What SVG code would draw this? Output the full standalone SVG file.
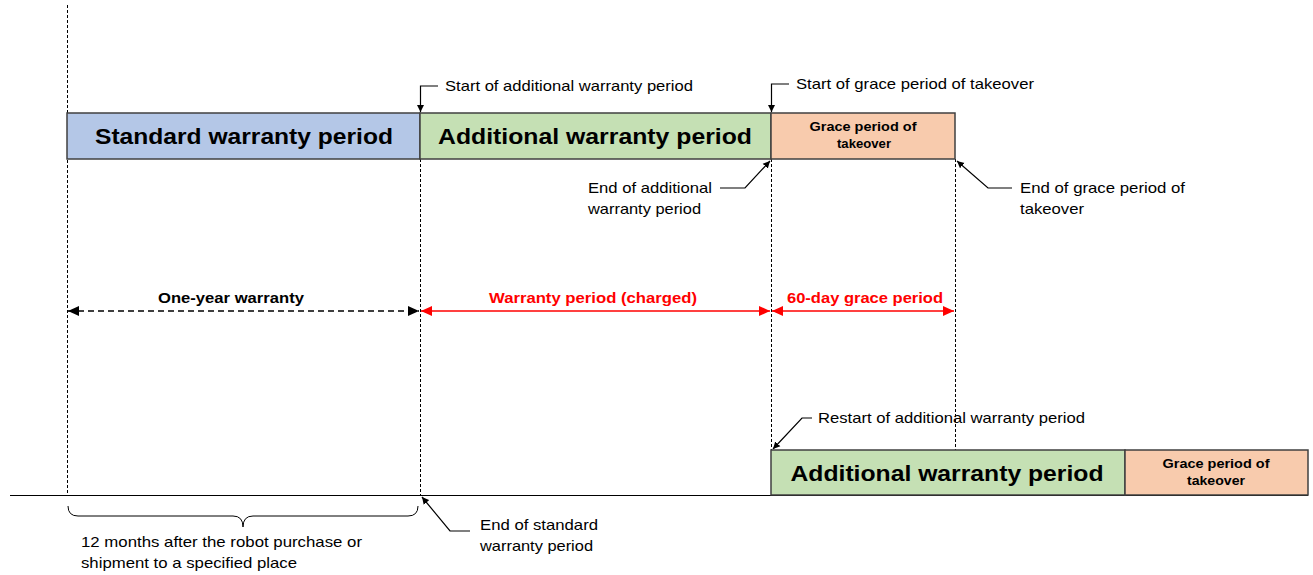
<svg xmlns="http://www.w3.org/2000/svg" width="1313" height="575" viewBox="0 0 1313 575">
  <defs>
    <marker id="ah" markerWidth="8" markerHeight="8" refX="7" refY="4" orient="auto" markerUnits="userSpaceOnUse">
      <path d="M0,0.5 L7,4 L0,7.5 Z" fill="#000"/>
    </marker>
    <marker id="ahL" markerWidth="12" markerHeight="12" refX="11" refY="6" orient="auto-start-reverse" markerUnits="userSpaceOnUse">
      <path d="M0,1 L11,6 L0,11 Z" fill="#000"/>
    </marker>
    <marker id="ahR" markerWidth="12" markerHeight="12" refX="11" refY="6" orient="auto-start-reverse" markerUnits="userSpaceOnUse">
      <path d="M0,1 L11,6 L0,11 Z" fill="#f00"/>
    </marker>
  </defs>
  <style>
    text { font-family: "Liberation Sans", Arial, sans-serif; }
    .box { stroke: #404040; stroke-width: 1.5; }
    .blue { fill: #b4c7e7; }
    .green { fill: #c5e0b4; }
    .orange { fill: #f8cbad; }
    .title { font-size: 21.5px; font-weight: bold; fill: #000; text-anchor: middle; }
    .small { font-size: 12.5px; font-weight: bold; fill: #000; text-anchor: middle; }
    .lbl { font-size: 14.5px; fill: #000; }
    .span { font-size: 14.5px; font-weight: bold; text-anchor: middle; }
    .guide { stroke: #000; stroke-width: 1; stroke-dasharray: 3 2; fill: none; }
    .call { stroke: #000; stroke-width: 1.2; fill: none; }
  </style>

  <!-- time axis -->
  <line x1="10" y1="495.5" x2="1308" y2="495.5" stroke="#000" stroke-width="1.2"/>

  <!-- connectors: guides, callouts, spans -->
  <g id="connectors">
    <line class="guide" x1="67.5" y1="5" x2="67.5" y2="495"/>
    <line class="guide" x1="420.5" y1="159" x2="420.5" y2="495"/>
    <line class="guide" x1="771.5" y1="159" x2="771.5" y2="450"/>
    <line class="guide" x1="955.5" y1="159" x2="955.5" y2="450"/>

    <polyline class="call" points="438,86 420.5,86 420.5,112" marker-end="url(#ah)"/>
    <polyline class="call" points="789,84 771.5,84 771.5,112" marker-end="url(#ah)"/>
    <polyline class="call" points="720,188 745,188 770,161" marker-end="url(#ah)"/>
    <polyline class="call" points="1012,188 988,188 957,161" marker-end="url(#ah)"/>
    <polyline class="call" points="812,418 802,418 773,449" marker-end="url(#ah)"/>
    <polyline class="call" points="470,531 450,531 422,497" marker-end="url(#ah)"/>

    <line x1="68" y1="311" x2="419" y2="311" stroke="#000" stroke-width="1.3" stroke-dasharray="6 4" marker-start="url(#ahL)" marker-end="url(#ahL)"/>
    <line x1="421" y1="311" x2="770" y2="311" stroke="#f00" stroke-width="1.5" marker-start="url(#ahR)" marker-end="url(#ahR)"/>
    <line x1="772" y1="311" x2="954" y2="311" stroke="#f00" stroke-width="1.5" marker-start="url(#ahR)" marker-end="url(#ahR)"/>

    <!-- brace -->
    <path d="M68,506 Q68,516 78,516 L233,516 Q243,516 243,527 Q243,516 253,516 L408,516 Q418,516 418,506" fill="none" stroke="#000" stroke-width="1"/>
  </g>

  <!-- top row -->
  <g id="standard">
    <rect class="box blue" x="67" y="113" width="353" height="46"/>
    <text class="title" x="244" y="144" textLength="298" lengthAdjust="spacingAndGlyphs">Standard warranty period</text>
  </g>
  <g id="additional">
    <rect class="box green" x="420" y="113" width="351" height="46"/>
    <text class="title" x="595" y="144" textLength="314" lengthAdjust="spacingAndGlyphs">Additional warranty period</text>
  </g>
  <g id="grace">
    <rect class="box orange" x="771" y="113" width="184" height="46"/>
    <text class="small" x="863" y="131" textLength="107" lengthAdjust="spacingAndGlyphs">Grace period of</text>
    <text class="small" x="864" y="148" textLength="54" lengthAdjust="spacingAndGlyphs">takeover</text>
  </g>

  <!-- bottom row -->
  <g id="additional-restart">
    <rect class="box green" x="771" y="450" width="354" height="45"/>
    <text class="title" x="947" y="481" textLength="313" lengthAdjust="spacingAndGlyphs">Additional warranty period</text>
  </g>
  <g id="grace-restart">
    <rect class="box orange" x="1125" y="450" width="183" height="45"/>
    <text class="small" x="1216" y="468" textLength="107" lengthAdjust="spacingAndGlyphs">Grace period of</text>
    <text class="small" x="1216" y="485" textLength="58" lengthAdjust="spacingAndGlyphs">takeover</text>
  </g>

  <!-- labels -->
  <g id="label-start-additional"><text class="lbl" x="445" y="91" textLength="248" lengthAdjust="spacingAndGlyphs">Start of additional warranty period</text></g>
  <g id="label-start-grace"><text class="lbl" x="796" y="89" textLength="238" lengthAdjust="spacingAndGlyphs">Start of grace period of takeover</text></g>
  <g id="label-end-additional">
    <text class="lbl" x="588" y="193" textLength="124" lengthAdjust="spacingAndGlyphs">End of additional</text>
    <text class="lbl" x="588" y="214" textLength="113" lengthAdjust="spacingAndGlyphs">warranty period</text>
  </g>
  <g id="label-end-grace">
    <text class="lbl" x="1020" y="193" textLength="165" lengthAdjust="spacingAndGlyphs">End of grace period of</text>
    <text class="lbl" x="1020" y="214" textLength="64" lengthAdjust="spacingAndGlyphs">takeover</text>
  </g>
  <g id="span-one-year"><text class="span" x="231" y="303" fill="#000" textLength="146" lengthAdjust="spacingAndGlyphs">One-year warranty</text></g>
  <g id="span-charged"><text class="span" x="593" y="303" fill="#f00" textLength="208" lengthAdjust="spacingAndGlyphs">Warranty period (charged)</text></g>
  <g id="span-grace"><text class="span" x="865" y="303" fill="#f00" textLength="156" lengthAdjust="spacingAndGlyphs">60-day grace period</text></g>
  <g id="label-restart"><text class="lbl" x="818" y="423" textLength="267" lengthAdjust="spacingAndGlyphs">Restart of additional warranty period</text></g>
  <g id="label-12-months">
    <text class="lbl" x="81" y="547" textLength="281" lengthAdjust="spacingAndGlyphs">12 months after the robot purchase or</text>
    <text class="lbl" x="81" y="568" textLength="216" lengthAdjust="spacingAndGlyphs">shipment to a specified place</text>
  </g>
  <g id="label-end-standard">
    <text class="lbl" x="480" y="530" textLength="118" lengthAdjust="spacingAndGlyphs">End of standard</text>
    <text class="lbl" x="480" y="551" textLength="113" lengthAdjust="spacingAndGlyphs">warranty period</text>
  </g>
</svg>
